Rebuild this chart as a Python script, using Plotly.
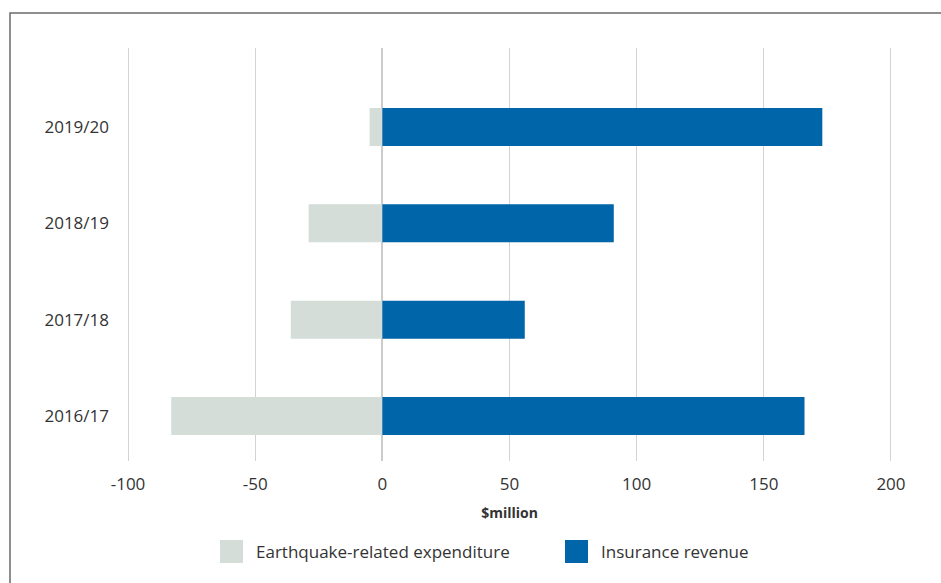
import plotly.graph_objects as go

years = ["2016/17", "2017/18", "2018/19", "2019/20"]
expenditure = [-83, -36, -29, -5]
insurance_revenue = [166, 56, 91, 173]
x_ticks = [-100, -50, 0, 50, 100, 150, 200]
x_tick_labels = ["-100", "-50", "0", "50", "100", "150", "200"]

series_names = ["Earthquake-related expenditure", "Insurance revenue"]
series_colors = ["#d4ddd8", "#0065a9"]

W, H = 941, 583
L, R, T, B = 127, 892, 48, 461


def px(x):
    return (x - L) / (R - L)


def py(y):
    return (B - y) / (B - T)


font_family = "Open Sans, Lato, sans-serif"
text_color = "#333333"

fig = go.Figure()
fig.add_trace(go.Bar(y=years, x=expenditure, orientation="h", name=series_names[0],
                     marker=dict(color=series_colors[0], line=dict(width=0)), showlegend=False))
fig.add_trace(go.Bar(y=years, x=insurance_revenue, orientation="h", name=series_names[1],
                     marker=dict(color=series_colors[1], line=dict(width=0)), showlegend=False))

shapes = [
    dict(type="rect", xref="paper", yref="paper", x0=px(10), x1=px(960), y0=py(13), y1=py(600),
         line=dict(color="#6b6b6b", width=1.5), fillcolor="rgba(0,0,0,0)", layer="below"),
]
annotations = []
legend_items = [(220, 254), (565, 599)]
for (sx, tx), name, col in zip(legend_items, series_names, series_colors):
    shapes.append(dict(type="rect", xref="paper", yref="paper", x0=px(sx), x1=px(sx + 23),
                       y0=py(540), y1=py(563), line=dict(width=0), fillcolor=col))
    annotations.append(dict(xref="paper", yref="paper", x=px(tx), y=py(551.5), text=name,
                            showarrow=False, xanchor="left", yanchor="middle",
                            font=dict(family=font_family, size=17, color=text_color)))

fig.update_layout(
    width=W, height=H,
    margin=dict(l=L, r=W - R, t=T, b=H - B, pad=0),
    paper_bgcolor="white", plot_bgcolor="white",
    barmode="relative", bargap=0.605,
    font=dict(family=font_family, size=17, color=text_color),
    shapes=shapes, annotations=annotations,
    xaxis=dict(range=[-100.4, 200.4], tickvals=x_ticks, ticktext=x_tick_labels,
               showgrid=True, gridcolor="#d3d3d3", gridwidth=1,
               zeroline=True, zerolinecolor="#cccccc", zerolinewidth=1.5, showline=False,
               ticks="", ticklabelstandoff=11,
               title=dict(text="<b>$million</b>", font=dict(size=14, color=text_color), standoff=14),
               tickfont=dict(size=17, color=text_color)),
    yaxis=dict(type="category", categoryorder="array", categoryarray=years,
               range=[-0.467, 3.82], showgrid=False, zeroline=False, showline=False,
               ticks="", ticklabelstandoff=17, tickfont=dict(size=17, color=text_color)),
)

fig.write_html("out.html")
